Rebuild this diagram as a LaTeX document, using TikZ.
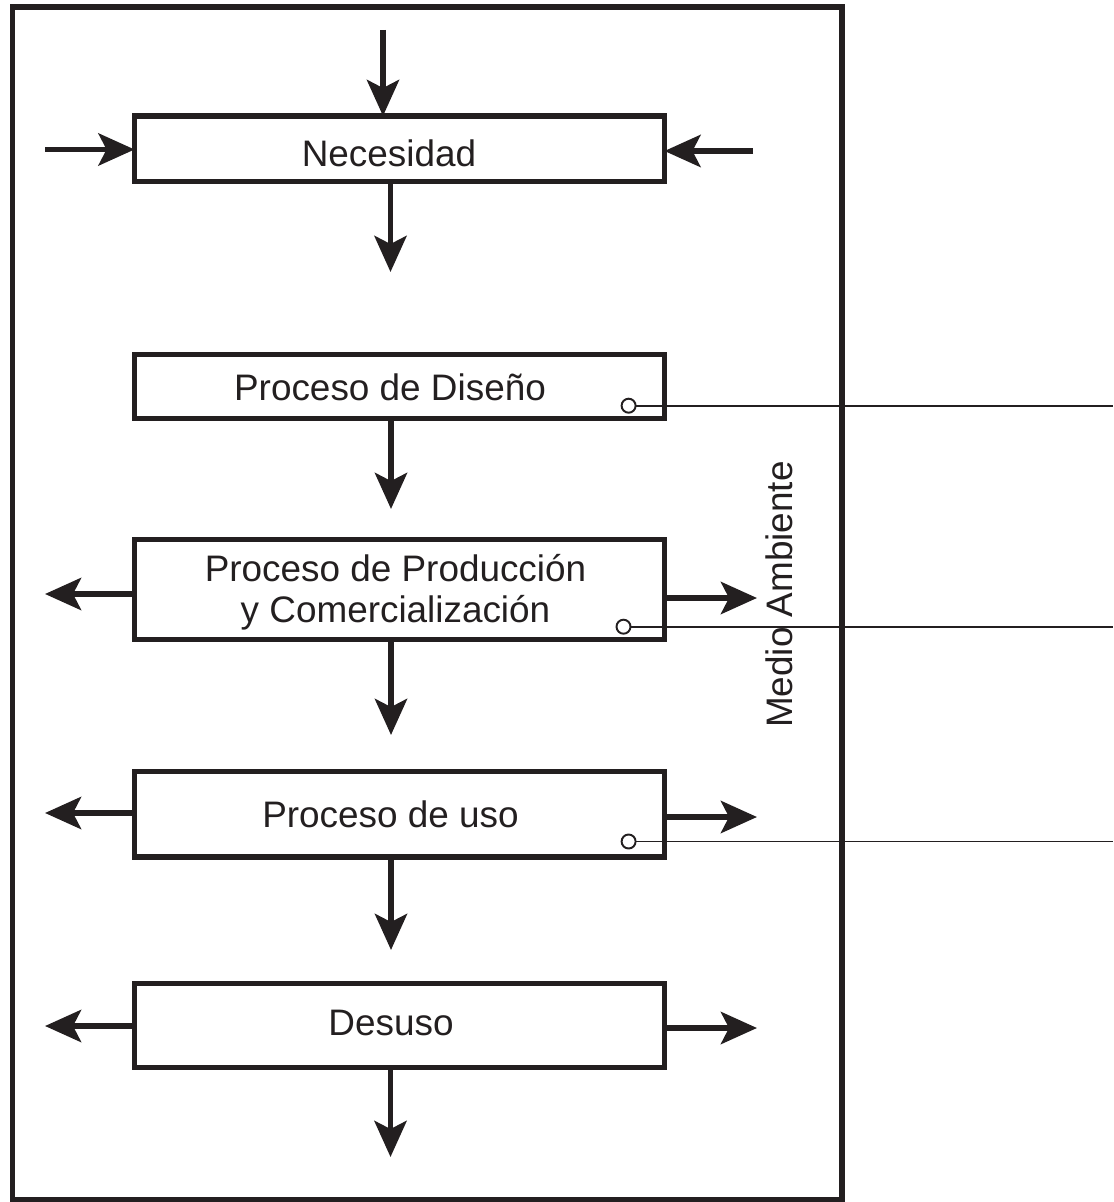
\documentclass[tikz,border=0pt]{standalone}
\usepackage{fontspec}
\setmainfont{Liberation Sans}
\usetikzlibrary{arrows.meta}
\definecolor{ink}{HTML}{231F20}
\tikzset{
  box/.style={draw=ink, line width=2.85pt, rectangle, minimum width=10.6cm, inner sep=0pt, outer sep=0pt},
  lbl/.style={text=ink, font=\fontsize{21}{24.6}\selectfont, inner sep=0pt, anchor=base},
  arr/.style={draw=ink, line width=3.4pt, -{Stealth[length=0.72cm, width=0.64cm, inset=0.16cm]}},
  frame/.style={draw=ink, line width=3pt},
  dot/.style={draw=ink, line width=1.1pt, circle, minimum size=0.28cm, inner sep=0pt, outer sep=0pt, fill=white},
  wire/.style={draw=ink, line width=1.1pt}
}
\begin{document}
\begin{tikzpicture}[x=0.02cm, y=-0.02cm]
\useasboundingbox (0,0) rectangle (1113,1202);
% outer frame
\node[frame, rectangle, inner sep=0pt, outer sep=0pt, minimum width=16.59cm, minimum height=23.86cm] (env) at (427.25,603.5) {};
% boxes
\node[box, minimum height=1.31cm] (nec) at (399.5,148.75) {};
\node[box, minimum height=1.29cm] (dis) at (399.5,386.75) {};
\node[box, minimum height=2.01cm] (prod) at (399.5,589.25) {};
\node[box, minimum height=1.71cm] (uso) at (399.5,814.25) {};
\node[box, minimum height=1.69cm] (des) at (399.5,1025.25) {};
% labels
\node[lbl] (tnec) at (389,167) {Necesidad};
\node[lbl] (tdis) at (390,400) {Proceso de Diseño};
\node[lbl] (tprod1) at (395.5,581) {Proceso de Producción};
\node[lbl] (tprod2) at (395.5,622) {y Comercialización};
\node[lbl] (tuso) at (390.5,827) {Proceso de uso};
\node[lbl] (tdes) at (391,1035) {Desuso};
\node[lbl, rotate=90] (tenv) at (792,594.5) {Medio Ambiente};
% free ends
\coordinate (ntop) at (383,30);
\coordinate (nleft) at (45,149.5);
\coordinate (nright) at (753,151);
\coordinate (d1) at (390.5,272);
\coordinate (d2) at (391,509);
\coordinate (d3) at (391,735);
\coordinate (d4) at (391,950);
\coordinate (d5) at (390.5,1157);
\coordinate (l3) at (45,594);
\coordinate (r3) at (757,598);
\coordinate (l4) at (45,813);
\coordinate (r4) at (757,817);
\coordinate (l5) at (45,1026);
\coordinate (r5) at (757,1028);
% arrows into Necesidad
\draw[arr] (ntop) -- (ntop |- nec.north);
\draw[arr] (nleft) -- (nleft -| nec.west);
\draw[arr] (nright) -- (nright -| nec.east);
% downward arrows
\draw[arr] (d1 |- nec.south) -- (d1);
\draw[arr] (d2 |- dis.south) -- (d2);
\draw[arr] (d3 |- prod.south) -- (d3);
\draw[arr] (d4 |- uso.south) -- (d4);
\draw[arr] (d5 |- des.south) -- (d5);
% side outputs
\draw[arr] (l3 -| prod.west) -- (l3);
\draw[arr] (r3 -| prod.east) -- (r3);
\draw[arr] (l4 -| uso.west) -- (l4);
\draw[arr] (r4 -| uso.east) -- (r4);
\draw[arr] (l5 -| des.west) -- (l5);
\draw[arr] (r5 -| des.east) -- (r5);
% connectors to the right
\coordinate (w1) at (1113,405.7);
\coordinate (w2) at (1113,626.7);
\coordinate (w3) at (1113,841.5);
\node[dot] (c1) at (628.6,405.7) {};
\node[dot] (c2) at (623.5,626.7) {};
\node[dot] (c3) at (628.6,841.5) {};
\draw[wire] (c1.east) -- (w1);
\draw[wire] (c2.east) -- (w2);
\draw[wire] (c3.east) -- (w3);
\end{tikzpicture}
\end{document}
